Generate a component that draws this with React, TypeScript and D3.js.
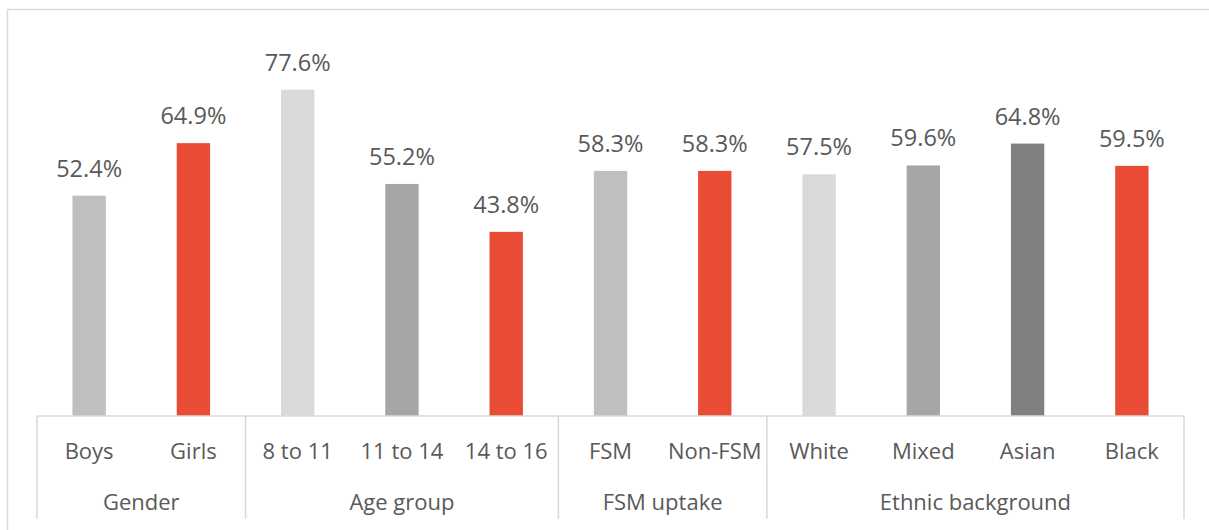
import React, { useRef, useEffect } from 'react';
import * as d3 from 'd3';

// Chart data
const categories = ['Boys', 'Girls', '8 to 11', '11 to 14', '14 to 16', 'FSM', 'Non-FSM', 'White', 'Mixed', 'Asian', 'Black'];
const values = [52.4, 64.9, 77.6, 55.2, 43.8, 58.3, 58.3, 57.5, 59.6, 64.8, 59.5];
const groups = ['Gender', 'Age group', 'FSM uptake', 'Ethnic background'];
const groupSizes = [2, 3, 2, 4];
const barColors = ['#bfbfbf', '#e84c34', '#d9d9d9', '#a6a6a6', '#e84c34', '#bfbfbf', '#e84c34', '#d9d9d9', '#a6a6a6', '#808080', '#e84c34'];

const App = () => {
  const svgRef = useRef<SVGSVGElement>(null);

  useEffect(() => {
    document.body.style.margin = '0';
    const width = 1209;
    const height = 530;
    const margin = { left: 37, right: 25, axisY: 416 };
    const font = '"Open Sans", sans-serif';
    const textColor = '#595959';
    const gridColor = '#d9d9d9';

    const svg = d3.select(svgRef.current);
    svg.selectAll('*').remove();
    svg.attr('width', width).attr('height', height);

    svg.append('rect').attr('width', width).attr('height', height).attr('fill', '#fff');

    // outer chart border (left and top only are visible)
    svg.append('path')
      .attr('d', `M7.5,${height}V9.5H${width}`)
      .attr('fill', 'none')
      .attr('stroke', gridColor)
      .attr('stroke-width', 1.5);

    const x = d3.scaleBand<string>()
      .domain(categories)
      .range([margin.left, width - margin.right])
      .paddingInner(0.68)
      .paddingOuter(0.34);

    const y = d3.scaleLinear()
      .domain([0, 90])
      .range([margin.axisY, margin.axisY - 90 * 4.204]);

    // bars
    svg.append('g')
      .selectAll('rect')
      .data(categories)
      .enter()
      .append('rect')
      .attr('x', d => x(d)!)
      .attr('width', x.bandwidth())
      .attr('y', (d, i) => y(values[i]))
      .attr('height', (d, i) => y(0) - y(values[i]))
      .attr('fill', (d, i) => barColors[i]);

    // value labels
    svg.append('g')
      .selectAll('text')
      .data(categories)
      .enter()
      .append('text')
      .attr('x', d => x(d)! + x.bandwidth() / 2)
      .attr('y', (d, i) => y(values[i]) - 19)
      .attr('text-anchor', 'middle')
      .attr('font-family', font)
      .attr('font-size', 23.5)
      .attr('fill', textColor)
      .text((d, i) => `${values[i].toFixed(1)}%`);

    // axis line
    svg.append('line')
      .attr('x1', margin.left).attr('x2', width - margin.right)
      .attr('y1', margin.axisY).attr('y2', margin.axisY)
      .attr('stroke', gridColor).attr('stroke-width', 1.5);

    // category labels
    svg.append('g')
      .selectAll('text')
      .data(categories)
      .enter()
      .append('text')
      .attr('x', d => x(d)! + x.bandwidth() / 2)
      .attr('y', 459)
      .attr('text-anchor', 'middle')
      .attr('font-family', font)
      .attr('font-size', 22)
      .attr('fill', textColor)
      .text(d => d);

    // group separators and labels
    const step = x.step();
    let start = 0;
    const bounds = [0];
    groupSizes.forEach(n => { start += n; bounds.push(start); });

    bounds.forEach(b => {
      const px = margin.left + b * step;
      svg.append('line')
        .attr('x1', px).attr('x2', px)
        .attr('y1', margin.axisY).attr('y2', 519)
        .attr('stroke', gridColor).attr('stroke-width', 1.5);
    });

    groups.forEach((g, i) => {
      const cx = margin.left + ((bounds[i] + bounds[i + 1]) / 2) * step;
      svg.append('text')
        .attr('x', cx)
        .attr('y', 510)
        .attr('text-anchor', 'middle')
        .attr('font-family', font)
        .attr('font-size', 22)
        .attr('fill', textColor)
        .text(g);
    });
  }, []);

  return <svg ref={svgRef} style={{ display: 'block' }}></svg>;
};

export default App;
